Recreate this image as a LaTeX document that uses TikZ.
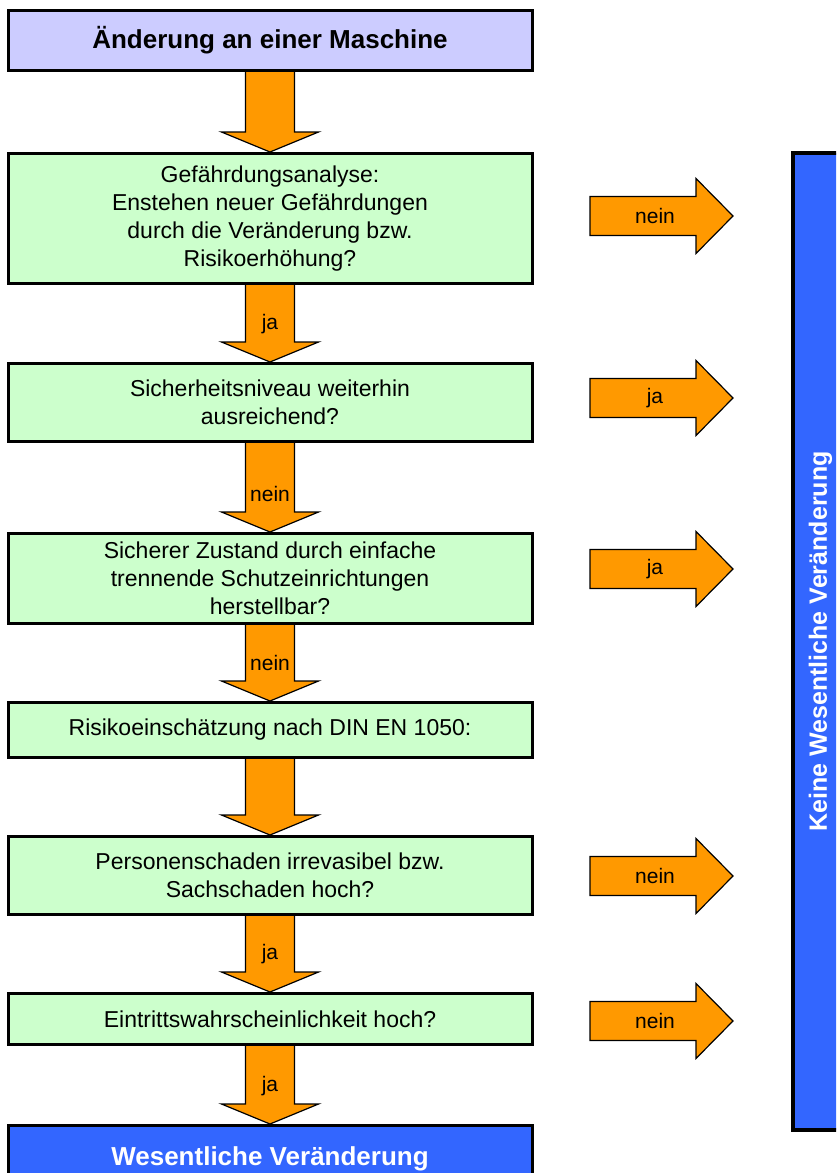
\documentclass[tikz,border=0pt]{standalone}
\usepackage{fontspec}
\setmainfont{Liberation Sans}
\usetikzlibrary{calc,backgrounds}
\definecolor{lavbox}{HTML}{CCCCFF}
\definecolor{greenbox}{HTML}{CCFFCC}
\definecolor{orangearr}{HTML}{FF9900}
\definecolor{bluebox}{HTML}{3366FF}
\tikzset{
  box/.style={draw=black, line width=3pt, fill=greenbox, minimum width=524pt,
    anchor=north, align=center, inner sep=0pt,
    font=\fontsize{23}{28}\selectfont},
  titlebox/.style={box, fill=lavbox, font=\bfseries\fontsize{26}{28}\selectfont},
  endbox/.style={box, fill=bluebox, text=white, font=\bfseries\fontsize{26}{28}\selectfont},
  blockarrow/.style={draw=black, line width=1.2pt, fill=orangearr, line join=miter},
  arrlabel/.style={inner sep=0pt, font=\fontsize{21}{22}\selectfont},
}
\newcommand{\DnArrow}[4]{%
  \begin{scope}[on background layer]
  \draw[blockarrow] let \p1=(#1.south), \p2=(#2.north) in
    (\x2-24.5pt,\y1) -- (\x2-24.5pt,\y2+20pt) -- (\x2-48.5pt,\y2+20pt) -- (\x2,\y2)
    -- (\x2+48.5pt,\y2+20pt) -- (\x2+24.5pt,\y2+20pt) -- (\x2+24.5pt,\y1);
  \end{scope}
  \node[arrlabel] (#3) at ($(#2.north)+(0,-38)$) {#4};
}
\newcommand{\RtArrow}[3]{%
  \node[arrlabel] (#1) at (655,#2) {#3};
  \begin{scope}[on background layer]
  \draw[blockarrow] let \p1=(#1.center) in
    (\x1-65pt,\y1+19.5pt) -- (\x1+41pt,\y1+19.5pt) -- (\x1+41pt,\y1+37.5pt)
    -- (\x1+78pt,\y1) -- (\x1+41pt,\y1-37.5pt) -- (\x1+41pt,\y1-19.5pt)
    -- (\x1-65pt,\y1-19.5pt) -- cycle;
  \end{scope}
}
\begin{document}
\begin{tikzpicture}[x=1pt,y=-1pt]
\useasboundingbox (0,0) rectangle (836,1173);
\clip (0,0) rectangle (836,1173);

\node[titlebox, minimum height=60pt] (b1) at (270,9) {Änderung an einer Maschine};
\node[box, minimum height=130pt] (b2) at (270,152) {Gefährdungsanalyse:\\Enstehen neuer Gefährdungen\\durch die Veränderung bzw.\\Risikoerhöhung?};
\node[box, minimum height=78pt] (b3) at (270,362) {Sicherheitsniveau weiterhin\\ausreichend?};
\node[box, minimum height=90pt] (b4) at (270,532) {Sicherer Zustand durch einfache\\trennende Schutzeinrichtungen\\herstellbar?};
\node[box, minimum height=55pt] (b5) at (270,701) {Risikoeinschätzung nach DIN EN 1050:};
\node[box, minimum height=78pt] (b6) at (270,835) {Personenschaden irrevasibel bzw.\\Sachschaden hoch?};
\node[box, minimum height=51pt] (b7) at (270,992) {Eintrittswahrscheinlichkeit hoch?};
\node[endbox, minimum height=66pt] (b8) at (270,1124) {Wesentliche Veränderung};

\node[draw=black, line width=4pt, fill=bluebox, minimum width=55pt, minimum height=977pt,
  anchor=north west, inner sep=0pt] (bar) at (791,151) {};
\node[text=white, rotate=90, font=\bfseries\fontsize{25}{28}\selectfont] (bartext) at (bar.center) {Keine Wesentliche Veränderung};

\DnArrow{b1}{b2}{a1}{}
\DnArrow{b2}{b3}{a2}{ja}
\DnArrow{b3}{b4}{a3}{nein}
\DnArrow{b4}{b5}{a4}{nein}
\DnArrow{b5}{b6}{a5}{}
\DnArrow{b6}{b7}{a6}{ja}
\DnArrow{b7}{b8}{a7}{ja}

\RtArrow{r1}{216}{nein}
\RtArrow{r2}{398}{ja}
\RtArrow{r3}{569}{ja}
\RtArrow{r4}{876}{nein}
\RtArrow{r5}{1021}{nein}
\end{tikzpicture}
\end{document}
